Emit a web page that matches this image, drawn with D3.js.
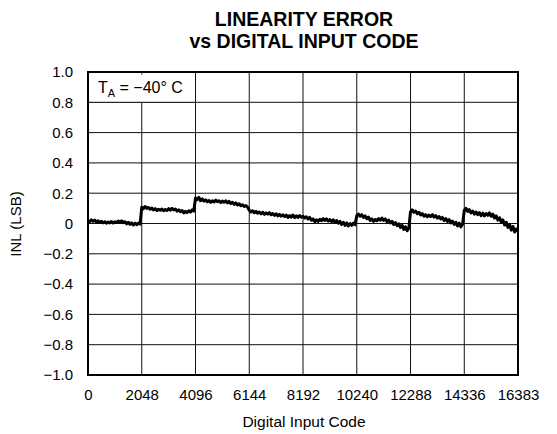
<!DOCTYPE html>
<html><head><meta charset="utf-8">
<script src="https://cdn.jsdelivr.net/npm/d3@7"></script>
<style>body{margin:0;background:#fff}svg{display:block;font-family:"Liberation Sans",Arial,sans-serif}</style>
</head><body><svg id="c" width="557" height="434"></svg>
<script>
const titleLines = ["LINEARITY ERROR", "vs DIGITAL INPUT CODE"];
const xTicks = [0, 2048, 4096, 6144, 8192, 10240, 12288, 14336, 16383];
const yTicks = [-1.0, -0.8, -0.6, -0.4, -0.2, 0, 0.2, 0.4, 0.6, 0.8, 1.0];
const xLabel = "Digital Input Code";
const yLabel = "INL (LSB)";
const codeStep = 64;
const lastCode = 16383;
const inl = [
 0.020, 0.012, 0.024, 0.015, 0.022, 0.010, 0.018, 0.008, 0.014, 0.004, 0.012, 0.002, 0.010, 0.004, 0.013, 0.003,
 0.011, 0.006, 0.016, 0.008, 0.018, 0.006, 0.012, -0.002, 0.008, -0.006, 0.004, -0.010, 0.002, -0.008, 0.003, -0.004,
 0.108, 0.098, 0.112, 0.100, 0.106, 0.094, 0.102, 0.090, 0.098, 0.086, 0.094, 0.088, 0.096, 0.084, 0.092, 0.086,
 0.098, 0.088, 0.100, 0.090, 0.096, 0.082, 0.090, 0.078, 0.086, 0.070, 0.080, 0.072, 0.084, 0.076, 0.090, 0.082,
 0.168, 0.158, 0.172, 0.150, 0.162, 0.148, 0.156, 0.144, 0.152, 0.140, 0.150, 0.142, 0.154, 0.144, 0.150, 0.138,
 0.148, 0.140, 0.150, 0.136, 0.146, 0.132, 0.140, 0.126, 0.136, 0.122, 0.130, 0.118, 0.124, 0.112, 0.118, 0.108,
 0.088, 0.076, 0.084, 0.070, 0.080, 0.068, 0.076, 0.064, 0.074, 0.060, 0.070, 0.062, 0.072, 0.058, 0.066, 0.054,
 0.064, 0.050, 0.060, 0.048, 0.058, 0.046, 0.056, 0.040, 0.052, 0.042, 0.056, 0.038, 0.050, 0.040, 0.052, 0.042,
 0.048, 0.036, 0.044, 0.030, 0.040, 0.022, 0.030, 0.012, 0.024, 0.014, 0.028, 0.018, 0.032, 0.020, 0.030, 0.016,
 0.026, 0.012, 0.024, 0.008, 0.020, 0.002, 0.014, -0.006, 0.008, -0.012, 0.004, -0.016, 0.000, -0.012, 0.002, -0.008,
 0.052, 0.062, 0.048, 0.058, 0.040, 0.050, 0.032, 0.042, 0.020, 0.030, 0.014, 0.026, 0.018, 0.032, 0.022, 0.036,
 0.020, 0.030, 0.012, 0.022, 0.004, 0.014, -0.006, 0.006, -0.014, -0.002, -0.026, -0.012, -0.040, -0.022, -0.048, -0.030,
 0.078, 0.090, 0.074, 0.082, 0.064, 0.074, 0.056, 0.066, 0.048, 0.058, 0.044, 0.056, 0.046, 0.058, 0.042, 0.052,
 0.036, 0.046, 0.030, 0.040, 0.020, 0.032, 0.014, 0.026, 0.004, 0.016, -0.006, 0.008, -0.016, 0.002, -0.022, -0.004,
 0.086, 0.100, 0.080, 0.092, 0.070, 0.082, 0.062, 0.076, 0.058, 0.072, 0.052, 0.068, 0.050, 0.066, 0.054, 0.070,
 0.048, 0.062, 0.036, 0.050, 0.022, 0.038, 0.008, 0.024, -0.010, 0.008, -0.026, -0.006, -0.044, -0.020, -0.056, -0.036,
 -0.050
];

const svg = d3.select("#c");
const L = 88, R = 518, T = 72, B = 375;
const x = d3.scaleLinear().domain([0, 16383]).range([L, R]);
const y = d3.scaleLinear().domain([-1, 1]).range([B, T]);

// title
svg.append("g").selectAll("text").data(titleLines).join("text")
  .attr("x", 304).attr("y", (d, i) => 26 + i * 22)
  .attr("text-anchor", "middle").attr("font-weight", "bold").attr("font-size", 19.5)
  .text(d => d);

// grid
const grid = svg.append("g").attr("stroke", "#111").attr("stroke-width", 1);
grid.selectAll(".gx").data(xTicks.slice(1, -1)).join("line")
  .attr("x1", d => x(d)).attr("x2", d => x(d)).attr("y1", T).attr("y2", B);
grid.selectAll(".gy").data(yTicks.slice(1, -1)).join("line")
  .attr("x1", L).attr("x2", R).attr("y1", d => y(d)).attr("y2", d => y(d));

// data line
const pts = inl.map((v, i) => [Math.min(i * codeStep, lastCode), v]);
const line = d3.line().x(d => x(d[0])).y(d => y(d[1]));
svg.append("path").datum(pts).attr("d", line)
  .attr("fill", "none").attr("stroke", "#000").attr("stroke-width", 3).attr("stroke-linejoin", "round");

// legend box
svg.append("rect").attr("x", L).attr("y", T).attr("width", x(4096) - L).attr("height", y(0.8) - T)
  .attr("fill", "#fff").attr("stroke", "#111").attr("stroke-width", 1);
svg.append("line").attr("x1", x(2048)).attr("x2", x(2048)).attr("y1", T).attr("y2", T + 3)
  .attr("stroke", "#555").attr("stroke-width", 1);
const lt = svg.append("text").attr("x", 98).attr("y", 93).attr("font-size", 16);
lt.append("tspan").text("T");
lt.append("tspan").attr("font-size", 11).attr("dy", 4).text("A");
lt.append("tspan").attr("dy", -4).text(" = \u221240\u00b0 C");

// frame
svg.append("rect").attr("x", L).attr("y", T).attr("width", R - L).attr("height", B - T)
  .attr("fill", "none").attr("stroke", "#000").attr("stroke-width", 2);

// axes labels (via d3 axes, no tick lines)
const fmt = d => d === 0 ? "0" : d3.format(".1f")(d);
const ax = svg.append("g").attr("transform", `translate(0,${B})`)
  .call(d3.axisBottom(x).tickValues(xTicks).tickSize(0).tickPadding(14).tickFormat(d3.format("d")));
const ay = svg.append("g").attr("transform", `translate(${L},0)`)
  .call(d3.axisLeft(y).tickValues(yTicks).tickSize(0).tickPadding(15).tickFormat(fmt));
[ax, ay].forEach(g => {
  g.select(".domain").remove();
  g.selectAll("text").attr("font-size", 15).attr("fill", "#000").attr("font-family", "Liberation Sans, Arial, sans-serif");
});

svg.append("text").attr("x", 304).attr("y", 427).attr("text-anchor", "middle").attr("font-size", 15.5).text(xLabel);
svg.append("text").attr("transform", "translate(21,224) rotate(-90)").attr("text-anchor", "middle").attr("font-size", 15).text(yLabel);
</script></body></html>
